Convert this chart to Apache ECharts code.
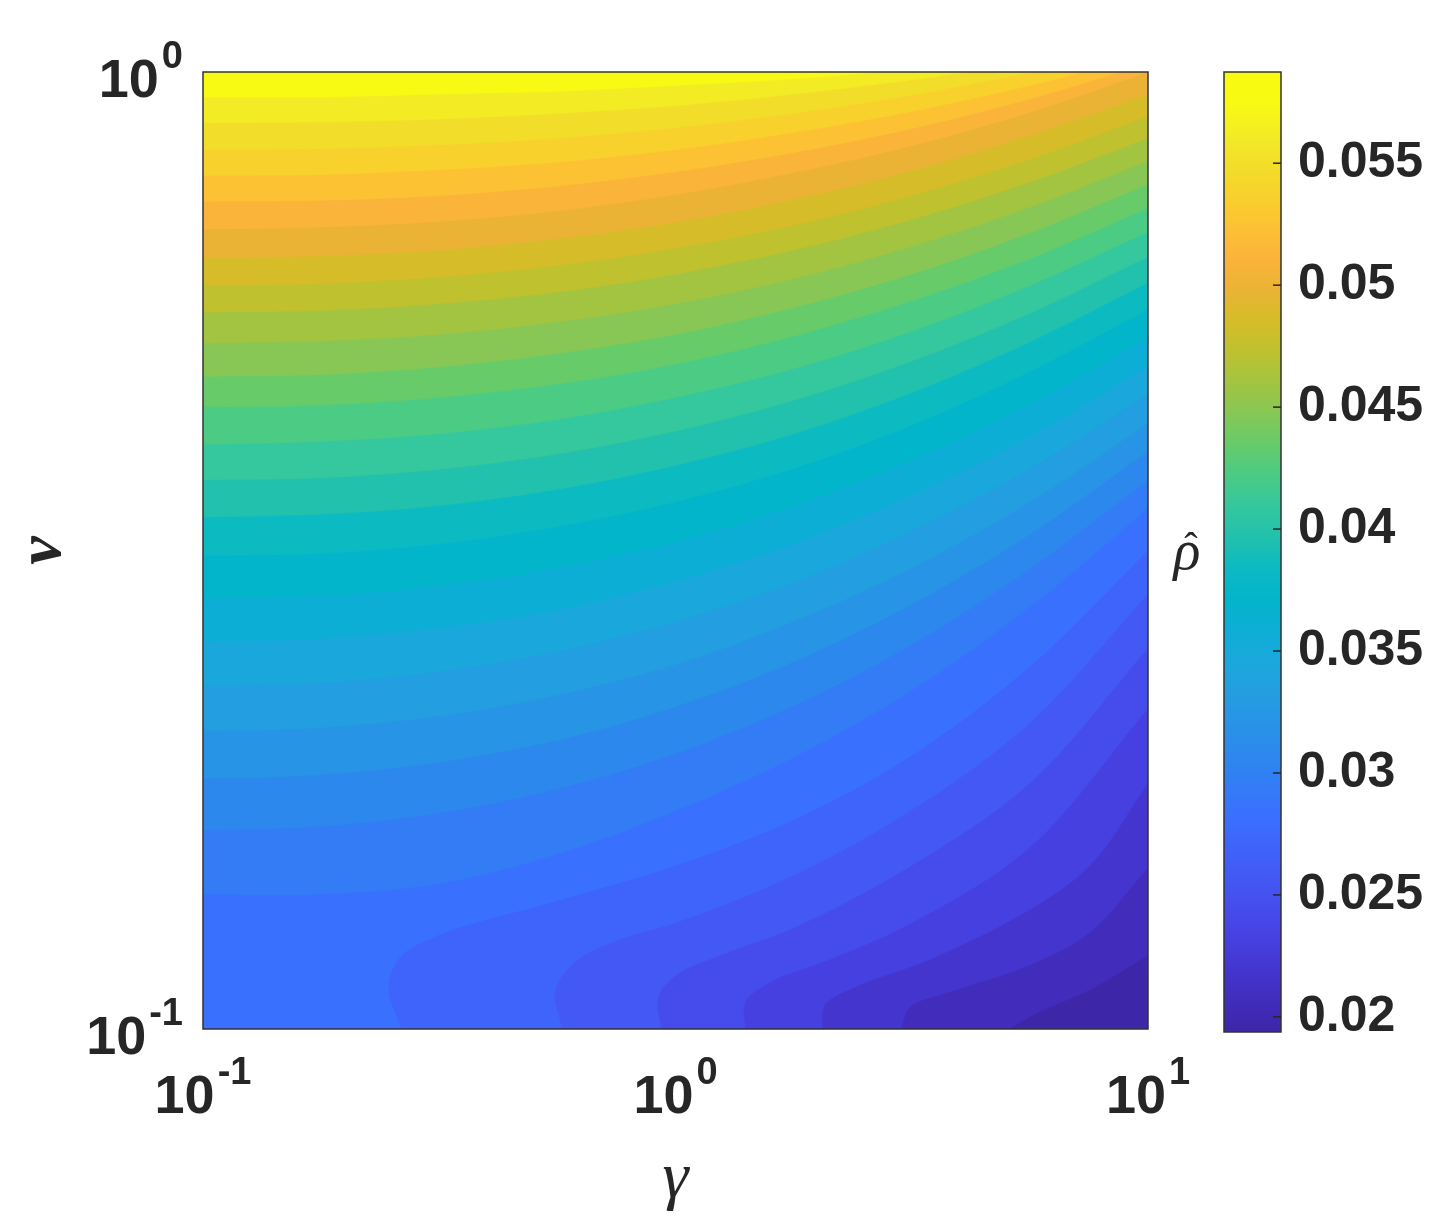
<!DOCTYPE html>
<html>
<head>
<meta charset="utf-8">
<script src="https://cdn.jsdelivr.net/npm/echarts@6/dist/echarts.min.js"></script>
<style>
html, body { margin: 0; padding: 0; background: #fff; }
#main { width: 1435px; height: 1218px; }
</style>
</head>
<body>
<div id="main"></div>
<script>
// filled contour of rho-hat over gamma (x, log) and nu (y, log)
// contour lines are stored as [log10(gamma), log10(nu)] points

var zMin = 0.01938;
var zMax = 0.05874;

// contour levels L0..L30 (31 filled bands)
var levelValues = [
  0.01938, 0.02065, 0.02192, 0.02319, 0.02446, 0.02573, 0.02700, 0.02827,
  0.02954, 0.03081, 0.03208, 0.03335, 0.03462, 0.03589, 0.03716, 0.03843,
  0.03970, 0.04097, 0.04224, 0.04350, 0.04477, 0.04604, 0.04731, 0.04858,
  0.04985, 0.05112, 0.05239, 0.05366, 0.05493, 0.05620, 0.05747
];

// colour bar ticks
var cbTicks = [0.02, 0.025, 0.03, 0.035, 0.04, 0.045, 0.05, 0.055];

// contour lines, low level -> high level
var lev01 = [[0.704, -1], [0.771, -0.982], [0.877, -0.959], [1, -0.923]];
var lev02 = [[0.477, -1], [0.496, -0.977], [0.581, -0.961], [0.75, -0.933], [0.877, -0.899], [1, -0.831]];
var lev03 = [[0.310, -1], [0.316, -0.975], [0.380, -0.956], [0.539, -0.927], [0.75, -0.875], [0.877, -0.829], [1, -0.743]];
var lev04 = [[0.147, -1], [0.147, -0.972], [0.2, -0.951], [0.327, -0.927], [0.5, -0.889], [0.75, -0.810], [1, -0.665]];
var lev05 = [[-0.031, -1], [-0.037, -0.967], [0, -0.944], [0.094, -0.923], [0.251, -0.894], [0.5, -0.829], [0.75, -0.743], [1, -0.602]];
var lev06 = [[-0.240, -1], [-0.255, -0.961], [-0.213, -0.930], [-0.117, -0.906], [0, -0.889], [0.251, -0.839], [0.5, -0.771], [0.75, -0.680], [1, -0.545]];
var lev07 = [[-0.581, -1], [-0.608, -0.956], [-0.583, -0.925], [-0.498, -0.901], [-0.251, -0.866], [0, -0.829], [0.251, -0.781], [0.5, -0.714], [0.75, -0.621], [1, -0.5]];
var lev08 = [[-1, -0.859], [-0.75, -0.859], [-0.5, -0.848], [-0.25, -0.817], [0, -0.772], [0.25, -0.716], [0.5, -0.646], [0.75, -0.559], [1, -0.456]];
var lev09 = [[-1, -0.792], [-0.75, -0.788], [-0.5, -0.774], [-0.25, -0.749], [0, -0.712], [0.25, -0.662], [0.5, -0.598], [0.75, -0.519], [1, -0.426]];
var lev10 = [[-1, -0.738], [-0.75, -0.734], [-0.5, -0.721], [-0.25, -0.698], [0, -0.663], [0.25, -0.616], [0.5, -0.556], [0.75, -0.483], [1, -0.396]];
var lev11 = [[-1, -0.689], [-0.75, -0.685], [-0.5, -0.673], [-0.25, -0.651], [0, -0.619], [0.25, -0.574], [0.5, -0.518], [0.75, -0.449], [1, -0.367]];
var lev12 = [[-1, -0.641], [-0.75, -0.638], [-0.5, -0.626], [-0.25, -0.605], [0, -0.574], [0.25, -0.533], [0.5, -0.479], [0.75, -0.414], [1, -0.336]];
var lev13 = [[-1, -0.595], [-0.75, -0.592], [-0.5, -0.581], [-0.25, -0.562], [0, -0.532], [0.25, -0.493], [0.5, -0.442], [0.75, -0.381], [1, -0.307]];
var lev14 = [[-1, -0.550], [-0.75, -0.547], [-0.5, -0.537], [-0.25, -0.518], [0, -0.491], [0.25, -0.453], [0.5, -0.405], [0.75, -0.347], [1, -0.277]];
var lev15 = [[-1, -0.505], [-0.75, -0.503], [-0.5, -0.493], [-0.25, -0.475], [0, -0.449], [0.25, -0.414], [0.5, -0.369], [0.75, -0.313], [1, -0.248]];
var lev16 = [[-1, -0.465], [-0.75, -0.462], [-0.5, -0.453], [-0.25, -0.436], [0, -0.411], [0.25, -0.378], [0.5, -0.335], [0.75, -0.282], [1, -0.220]];
var lev17 = [[-1, -0.426], [-0.75, -0.424], [-0.5, -0.415], [-0.25, -0.399], [0, -0.375], [0.25, -0.343], [0.5, -0.302], [0.75, -0.252], [1, -0.193]];
var lev18 = [[-1, -0.389], [-0.75, -0.386], [-0.5, -0.378], [-0.25, -0.363], [0, -0.340], [0.25, -0.310], [0.5, -0.271], [0.75, -0.223], [1, -0.167]];
var lev19 = [[-1, -0.350], [-0.75, -0.348], [-0.5, -0.340], [-0.25, -0.326], [0, -0.305], [0.25, -0.276], [0.5, -0.239], [0.75, -0.195], [1, -0.142]];
var lev20 = [[-1, -0.318], [-0.75, -0.316], [-0.5, -0.308], [-0.25, -0.294], [0, -0.274], [0.25, -0.246], [0.5, -0.211], [0.75, -0.168], [1, -0.117]];
var lev21 = [[-1, -0.283], [-0.75, -0.281], [-0.5, -0.274], [-0.25, -0.261], [0, -0.242], [0.25, -0.216], [0.5, -0.182], [0.75, -0.141], [1, -0.093]];
var lev22 = [[-1, -0.251], [-0.75, -0.249], [-0.5, -0.242], [-0.25, -0.230], [0, -0.211], [0.25, -0.186], [0.5, -0.154], [0.75, -0.115], [1, -0.069]];
var lev23 = [[-1, -0.223], [-0.75, -0.221], [-0.5, -0.214], [-0.25, -0.202], [0, -0.184], [0.25, -0.160], [0.5, -0.129], [0.75, -0.091], [1, -0.046]];
var lev24 = [[-1, -0.194], [-0.75, -0.192], [-0.5, -0.186], [-0.25, -0.174], [0, -0.157], [0.25, -0.133], [0.5, -0.103], [0.75, -0.066], [1, -0.023]];
var lev25 = [[-1, -0.164], [-0.75, -0.162], [-0.5, -0.156], [-0.25, -0.145], [0, -0.128], [0.25, -0.105], [0.5, -0.077], [0.75, -0.042], [1, 0]];
var lev26 = [[-1, -0.135], [-0.75, -0.134], [-0.5, -0.129], [-0.25, -0.119], [0, -0.104], [0.25, -0.084], [0.5, -0.059], [0.75, -0.028], [0.941, 0]];
var lev27 = [[-1, -0.108], [-0.75, -0.107], [-0.5, -0.102], [-0.25, -0.094], [0, -0.081], [0.25, -0.063], [0.5, -0.041], [0.75, -0.014], [0.862, 0]];
var lev28 = [[-1, -0.081], [-0.75, -0.080], [-0.5, -0.076], [-0.25, -0.069], [0, -0.058], [0.25, -0.043], [0.5, -0.024], [0.757, 0]];
var lev29 = [[-1, -0.053], [-0.75, -0.052], [-0.5, -0.049], [-0.25, -0.043], [0, -0.035], [0.25, -0.023], [0.5, -0.008], [0.617, 0]];
var lev30 = [[-1, -0.026], [-0.75, -0.026], [-0.5, -0.023], [-0.25, -0.020], [0, -0.014], [0.25, -0.007], [0.433, 0]];

var contourLines = [null,
  lev01, lev02, lev03, lev04, lev05, lev06, lev07, lev08, lev09, lev10,
  lev11, lev12, lev13, lev14, lev15, lev16, lev17, lev18, lev19, lev20,
  lev21, lev22, lev23, lev24, lev25, lev26, lev27, lev28, lev29, lev30];

// parula-like colormap, one stop per band (k/31) + top end
var PARULA = [
  '#3E26A8', '#412CBB', '#4435CF', '#4640E0', '#464CEC', '#4358F4', '#3F64FB', '#3A70FE',
  '#337CF6', '#2D88EE', '#2894E6', '#239EE0', '#1AA8DC', '#0DAED5', '#02B5CA', '#0CBAC2',
  '#22C1AD', '#35C79D', '#4BCB84', '#67CB6A', '#88C755', '#A3C440', '#BFC12F', '#D6BC28',
  '#EBB335', '#FBB43A', '#FDC234', '#F8D12C', '#F2DE2A', '#F3EC24', '#F9FA14'
];
var cmapStops = PARULA.map(function (c, i) { return { offset: i / 31, color: c }; })
  .concat([{ offset: 1, color: '#F9FB0E' }]);

var INK = '#262626';
var FONT = '"Liberation Sans", Arial, sans-serif';
var SERIF = '"Liberation Serif", "DejaVu Serif", serif';

function hexToRgb(h) {
  return [parseInt(h.substr(1, 2), 16), parseInt(h.substr(3, 2), 16), parseInt(h.substr(5, 2), 16)];
}

function colormap(v) {
  var t = (v - zMin) / (zMax - zMin);
  t = Math.max(0, Math.min(1, t));
  for (var i = 0; i < cmapStops.length - 1; i++) {
    var a = cmapStops[i], b = cmapStops[i + 1];
    if (t <= b.offset + 1e-9) {
      var w = (t - a.offset) / (b.offset - a.offset);
      var ca = hexToRgb(a.color), cb = hexToRgb(b.color);
      return 'rgb(' + Math.round(ca[0] + (cb[0] - ca[0]) * w) + ',' +
        Math.round(ca[1] + (cb[1] - ca[1]) * w) + ',' +
        Math.round(ca[2] + (cb[2] - ca[2]) * w) + ')';
    }
  }
  return cmapStops[cmapStops.length - 1].color;
}

// centripetal catmull-rom through pixel points
function mix(a, b, ta, tb, t) {
  var w = (t - ta) / (tb - ta);
  return [a[0] + (b[0] - a[0]) * w, a[1] + (b[1] - a[1]) * w];
}
function smoothLine(pts, steps) {
  var out = [];
  var n = pts.length;
  for (var i = 0; i < n - 1; i++) {
    var p1 = pts[i], p2 = pts[i + 1];
    var p0 = i > 0 ? pts[i - 1] : [2 * p1[0] - p2[0], 2 * p1[1] - p2[1]];
    var p3 = i < n - 2 ? pts[i + 2] : [2 * p2[0] - p1[0], 2 * p2[1] - p1[1]];
    var t0 = 0;
    var t1 = t0 + Math.sqrt(Math.hypot(p1[0] - p0[0], p1[1] - p0[1]));
    var t2 = t1 + Math.sqrt(Math.hypot(p2[0] - p1[0], p2[1] - p1[1]));
    var t3 = t2 + Math.sqrt(Math.hypot(p3[0] - p2[0], p3[1] - p2[1]));
    for (var s = 0; s < steps; s++) {
      var t = t1 + (t2 - t1) * s / steps;
      var A1 = mix(p0, p1, t0, t1, t), A2 = mix(p1, p2, t1, t2, t), A3 = mix(p2, p3, t2, t3, t);
      var B1 = mix(A1, A2, t0, t2, t), B2 = mix(A2, A3, t1, t3, t);
      out.push(mix(B1, B2, t1, t2, t));
    }
  }
  out.push(pts[n - 1]);
  return out;
}

function toPixel(api, p) {
  return api.coord([Math.pow(10, p[0]), Math.pow(10, p[1])]);
}

// band k = region where value >= L_k, painted low to high
function renderBand(params, api) {
  var k = params.dataIndex;
  var fill = colormap(levelValues[k]);
  var tl = api.coord([0.1, 1]);
  var br = api.coord([10, 0.1]);
  if (k === 0) {
    return {
      type: 'rect', z2: 0,
      shape: { x: tl[0], y: tl[1], width: br[0] - tl[0], height: br[1] - tl[1] },
      style: { fill: fill }
    };
  }
  var line = contourLines[k];
  var pts = smoothLine(line.map(function (p) { return toPixel(api, p); }), 16);
  var first = line[0], last = line[line.length - 1];
  if (last[0] >= 1 && last[1] < 0) pts.push([br[0], tl[1]]);
  pts.push([tl[0], tl[1]]);
  if (first[0] > -1) pts.push([tl[0], br[1]]);
  return {
    type: 'polygon', z2: k,
    shape: { points: pts },
    style: { fill: fill, stroke: fill, lineWidth: 0.6 }
  };
}

function renderFrame(params, api) {
  var tl = api.coord([0.1, 1]);
  var br = api.coord([10, 0.1]);
  return {
    type: 'rect',
    shape: { x: tl[0], y: tl[1], width: br[0] - tl[0], height: br[1] - tl[1] },
    style: { fill: 'none', stroke: '#333333', lineWidth: 1.5 }
  };
}

// colour bar: gradient rect, outline and inner ticks on the right edge
function renderColorbar(params, api) {
  var top = api.coord([0, zMax]);
  var bot = api.coord([1, zMin]);
  var children = [{
    type: 'rect',
    shape: { x: top[0], y: top[1], width: bot[0] - top[0], height: bot[1] - top[1] },
    style: {
      fill: new echarts.graphic.LinearGradient(0, 1, 0, 0, cmapStops),
      stroke: '#333333', lineWidth: 1.5
    }
  }];
  cbTicks.forEach(function (v) {
    var p = api.coord([1, v]);
    children.push({
      type: 'line',
      shape: { x1: p[0] - 8, y1: p[1], x2: p[0], y2: p[1] },
      style: { stroke: INK, lineWidth: 1.5 }
    });
  });
  return { type: 'group', children: children };
}

// both tokens get the same box height so the superscript sits high whatever the alignment
var tickRich = {
  b: { fontFamily: FONT, fontWeight: 'bold', fontSize: 54, color: INK, lineHeight: 54, padding: [20, 0, 0, 0] },
  s: { fontFamily: FONT, fontWeight: 'bold', fontSize: 38, color: INK, lineHeight: 36, padding: [5, 0, 33, 3] }
};
function powLabel(v) {
  var e = Math.round(Math.log(v) / Math.LN10);
  return '{b|10}{s|' + e + '}';
}

var chart = echarts.init(document.getElementById('main'));

var option = {
  animation: false,
  backgroundColor: '#ffffff',
  grid: [
    { left: 203, top: 72, width: 945, height: 960 },
    { left: 1224, top: 72, width: 57, height: 960 }
  ],
  xAxis: [
    {
      gridIndex: 0, type: 'log', logBase: 10, min: 0.1, max: 10,
      axisLine: { show: false }, axisTick: { show: false }, splitLine: { show: false },
      axisLabel: { formatter: powLabel, rich: tickRich, margin: 32 },
      name: '\u03B3', nameLocation: 'middle', nameGap: 118,
      nameTextStyle: { fontFamily: SERIF, fontStyle: 'italic', fontSize: 66, color: INK }
    },
    { gridIndex: 1, type: 'value', min: 0, max: 1, show: false }
  ],
  yAxis: [
    {
      gridIndex: 0, type: 'log', logBase: 10, min: 0.1, max: 1,
      axisLine: { show: false }, axisTick: { show: false }, splitLine: { show: false },
      axisLabel: { formatter: powLabel, rich: tickRich, margin: 20 },
      name: '\u03BD', nameLocation: 'middle', nameGap: 128, nameRotate: 90,
      nameTextStyle: { fontFamily: SERIF, fontStyle: 'italic', fontWeight: 'bold', fontSize: 64, color: INK }
    },
    {
      gridIndex: 1, type: 'value', min: zMin, max: zMax, position: 'right',
      axisLine: { show: false }, splitLine: { show: false }, axisTick: { show: false },
      axisLabel: {
        customValues: cbTicks, margin: 17, padding: [12, 0, 0, 0],
        formatter: function (v) { return String(Number(v.toFixed(3))); },
        fontFamily: FONT, fontWeight: 'bold', fontSize: 50, color: INK
      }
    },
    {
      gridIndex: 1, type: 'value', min: zMin, max: zMax, position: 'left',
      axisLine: { show: false }, axisTick: { show: false }, axisLabel: { show: false }, splitLine: { show: false },
      name: '{h|\u02C6}\n{r|\u03C1}', nameLocation: 'middle', nameGap: 37, nameRotate: 0,
      nameTextStyle: {
        align: 'center',
        rich: {
          h: { fontFamily: SERIF, fontSize: 40, lineHeight: 4, color: INK, padding: [0, 0, 0, 8] },
          r: { fontFamily: SERIF, fontStyle: 'italic', fontSize: 56, lineHeight: 6, color: INK }
        }
      }
    }
  ],
  series: [
    {
      type: 'custom', name: 'rho', xAxisIndex: 0, yAxisIndex: 0, clip: true, silent: true,
      data: levelValues, renderItem: renderBand, z: 2
    },
    {
      type: 'custom', name: 'frame', xAxisIndex: 0, yAxisIndex: 0, silent: true,
      data: [zMin], renderItem: renderFrame, z: 5
    },
    {
      type: 'custom', name: 'colorbar', xAxisIndex: 1, yAxisIndex: 1, silent: true,
      data: [zMin], renderItem: renderColorbar, z: 2
    }
  ]
};

chart.setOption(option);
</script>
</body>
</html>
